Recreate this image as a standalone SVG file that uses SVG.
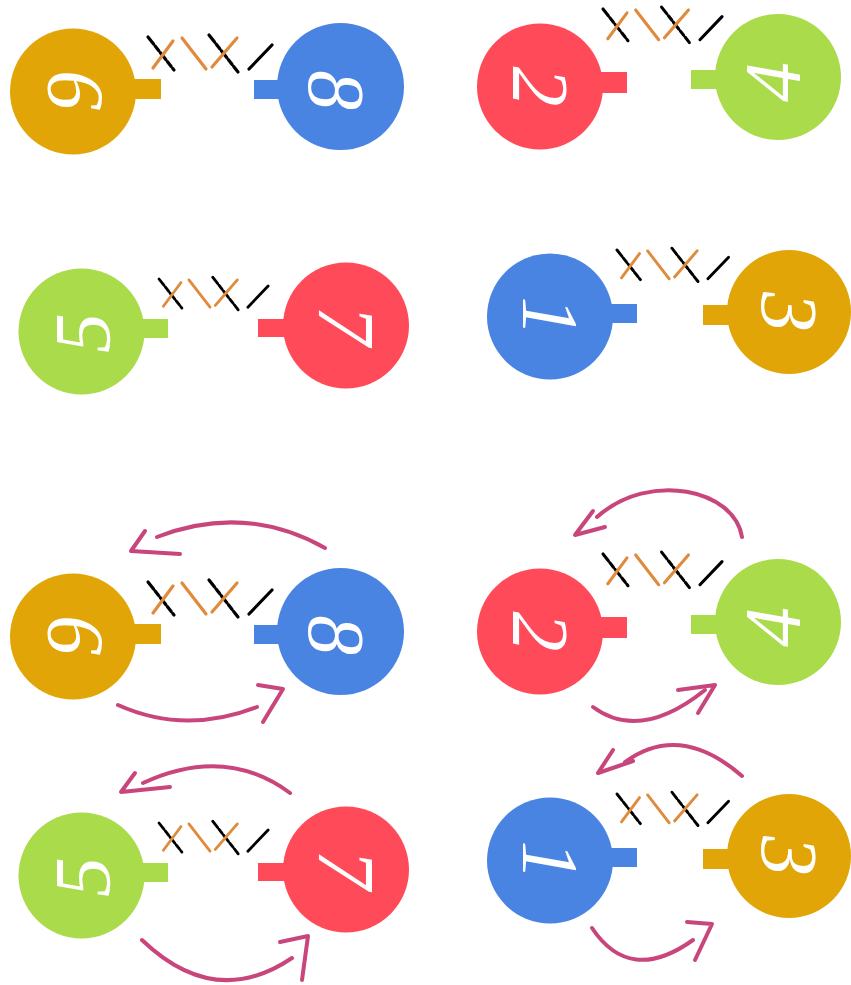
<svg xmlns="http://www.w3.org/2000/svg" xmlns:xlink="http://www.w3.org/1999/xlink" width="851" height="985" viewBox="0 0 851 985">
<style>
.or{fill:#E2A507}.bl{fill:#4A84E2}.rd{fill:#FF4A5A}.gr{fill:#A9DB4A}
.dg{font-family:"Liberation Serif","DejaVu Serif",serif;font-style:italic;font-size:80px;fill:#fff;text-anchor:middle}
.b{stroke:#000;stroke-width:3.2;stroke-linecap:round;stroke-dasharray:9 2.5 6 2.5}
.k{stroke:#000;stroke-width:3.2;stroke-linecap:round}
.o{stroke:#E08A3C;stroke-width:3.2;stroke-linecap:round}
.ar{fill:none;stroke:#C8467C;stroke-width:4;stroke-linecap:round;stroke-linejoin:round}
</style>
<defs>
<g id="xm">
<line class="b" x1="0" y1="0" x2="26" y2="33"/>
<line class="b" x1="61" y1="-2" x2="90" y2="35"/>
<line class="o" x1="25" y1="4" x2="5" y2="31"/>
<line class="o" x1="34" y1="1" x2="58" y2="32"/>
<line class="o" x1="89" y1="1" x2="64" y2="30"/>
<line class="k" x1="124" y1="8" x2="101" y2="32"/>
</g>
</defs>
<rect width="851" height="985" fill="#fff"/>

<g id="n9a"><circle class="or" cx="73" cy="91.5" r="63"/><rect class="or" x="130" y="79" width="31" height="20"/><text class="dg" transform="translate(74,92) rotate(-90)" y="27">9</text></g>
<g id="n8a"><circle class="bl" cx="340.5" cy="86.5" r="63.5"/><rect class="bl" x="254" y="80" width="30" height="19"/><text class="dg" transform="translate(336,90) rotate(90)" y="27">8</text></g>
<g id="n2a"><circle class="rd" cx="540" cy="86.5" r="63"/><rect class="rd" x="598" y="72" width="29" height="21"/><text class="dg" transform="translate(540,86.5) rotate(90)" y="27">2</text></g>
<g id="n4a"><circle class="gr" cx="778" cy="77" r="63"/><rect class="gr" x="691" y="70" width="30" height="19"/><text class="dg" transform="translate(773,82) rotate(-90)" y="27">4</text></g>

<g id="n5a"><circle class="gr" cx="81.5" cy="331.5" r="63"/><rect class="gr" x="138" y="319" width="30" height="19"/><text class="dg" transform="translate(83,333) rotate(-90)" y="27">5</text></g>
<g id="n7a"><circle class="rd" cx="346" cy="325.5" r="63"/><rect class="rd" x="258" y="319" width="30" height="18"/><text class="dg" transform="translate(346,325.5) rotate(90)" y="27">7</text></g>
<g id="n1a"><circle class="bl" cx="550" cy="316.5" r="63"/><rect class="bl" x="608" y="304" width="29" height="19"/><text class="dg" transform="translate(550,316.5) rotate(90)" y="27">1</text></g>
<g id="n3a"><circle class="or" cx="789" cy="312" r="62"/><rect class="or" x="703" y="305" width="30" height="20"/><text class="dg" transform="translate(789,312) rotate(90)" y="27">3</text></g>

<g id="n9b"><circle class="or" cx="73" cy="636.5" r="63"/><rect class="or" x="130" y="624" width="31" height="20"/><text class="dg" transform="translate(74,637) rotate(-90)" y="27">9</text></g>
<g id="n8b"><circle class="bl" cx="340.5" cy="631.5" r="63.5"/><rect class="bl" x="254" y="625" width="30" height="19"/><text class="dg" transform="translate(336,635) rotate(90)" y="27">8</text></g>
<g id="n2b"><circle class="rd" cx="540" cy="631.5" r="63"/><rect class="rd" x="598" y="617" width="29" height="21"/><text class="dg" transform="translate(540,631.5) rotate(90)" y="27">2</text></g>
<g id="n4b"><circle class="gr" cx="778" cy="622" r="63"/><rect class="gr" x="691" y="615" width="30" height="19"/><text class="dg" transform="translate(773,627) rotate(-90)" y="27">4</text></g>

<g id="n5b"><circle class="gr" cx="81.5" cy="875.5" r="63"/><rect class="gr" x="138" y="863" width="30" height="19"/><text class="dg" transform="translate(83,877) rotate(-90)" y="27">5</text></g>
<g id="n7b"><circle class="rd" cx="346" cy="869.5" r="63"/><rect class="rd" x="258" y="863" width="30" height="18"/><text class="dg" transform="translate(346,869.5) rotate(90)" y="27">7</text></g>
<g id="n1b"><circle class="bl" cx="550" cy="860.5" r="63"/><rect class="bl" x="608" y="848" width="29" height="19"/><text class="dg" transform="translate(550,860.5) rotate(90)" y="27">1</text></g>
<g id="n3b"><circle class="or" cx="789" cy="856" r="62"/><rect class="or" x="703" y="849" width="30" height="20"/><text class="dg" transform="translate(789,856) rotate(90)" y="27">3</text></g>

<g id="connectors">
<use xlink:href="#xm" href="#xm" transform="translate(148,37)"/>
<use xlink:href="#xm" href="#xm" transform="translate(603,9) scale(0.96)"/>
<use xlink:href="#xm" href="#xm" transform="translate(159,279) scale(0.88)"/>
<use xlink:href="#xm" href="#xm" transform="translate(617,250) scale(0.9)"/>
<use xlink:href="#xm" href="#xm" transform="translate(148,582)"/>
<use xlink:href="#xm" href="#xm" transform="translate(603,554) scale(0.96)"/>
<use xlink:href="#xm" href="#xm" transform="translate(159,823) scale(0.88)"/>
<use xlink:href="#xm" href="#xm" transform="translate(617,794) scale(0.9)"/>

<path class="ar" d="M325,548 Q245,503 157,537"/>
<path class="ar" d="M145,531 L131,551 L180,554"/>
<path class="ar" d="M118,705 Q185,735 257,707"/>
<path class="ar" d="M258,685 L283,689 L263,722"/>

<path class="ar" d="M742,537 C735,490 650,470 597,517"/>
<path class="ar" d="M593,511 L575,535 L605,527"/>
<path class="ar" d="M593,707 Q640,742 705,690"/>
<path class="ar" d="M678,690 L715,685 L698,713"/>

<path class="ar" d="M290,793 Q225,745 143,783"/>
<path class="ar" d="M135,773 L121,792 L170,787"/>
<path class="ar" d="M142,940 Q215,1010 292,958"/>
<path class="ar" d="M280,942 L308,936 L302,980"/>

<path class="ar" d="M742,776 Q680,722 625,762"/>
<path class="ar" d="M613,750 L598,773 L633,761"/>
<path class="ar" d="M592,928 Q630,985 693,940"/>
<path class="ar" d="M687,922 L712,924 L695,960"/>
</g>
</svg>
